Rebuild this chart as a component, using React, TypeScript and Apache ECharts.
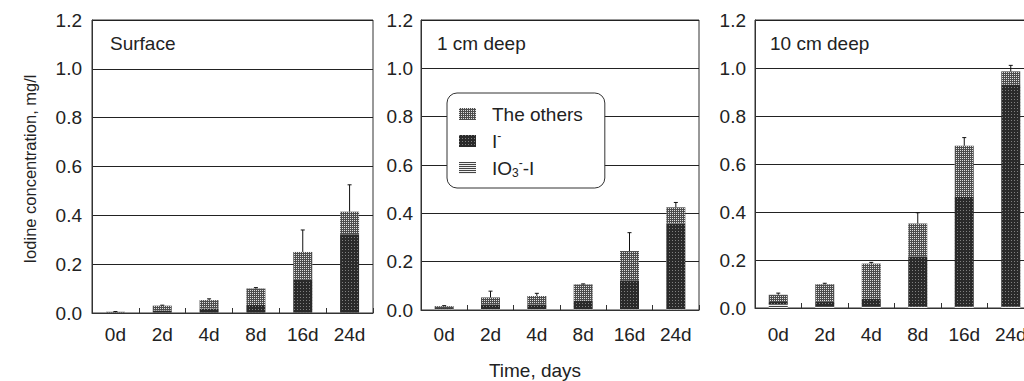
import React, { useEffect, useRef } from 'react';
import * as echarts from 'echarts';

const categories = ['0d', '2d', '4d', '8d', '16d', '24d'];
const panelTitles = ['Surface', '1 cm deep', '10 cm deep'];
const yTickMin = 0;
const yTickMax = 1.2;
const yTickStep = 0.2;

const NAME_OTHERS = 'The others';
const NAME_IMINUS = 'I⁻';
const NAME_IO3 = 'IO₃⁻-I';

// Surface
const io3Surface = [0.002, 0.003, 0.003, 0.003, 0.003, 0.003];
const iminusSurface = [0.001, 0.007, 0.015, 0.03, 0.135, 0.32];
const othersSurface = [0.002, 0.02, 0.035, 0.067, 0.112, 0.092];
const errSurface = [0.001, 0.002, 0.005, 0.004, 0.09, 0.11];

// 1 cm deep
const io3Cm1 = [0.003, 0.003, 0.003, 0.003, 0.003, 0.003];
const iminusCm1 = [0.005, 0.02, 0.02, 0.035, 0.12, 0.355];
const othersCm1 = [0.008, 0.029, 0.035, 0.068, 0.121, 0.067];
const errCm1 = [0.002, 0.026, 0.011, 0.002, 0.076, 0.02];

// 10 cm deep
const io3Cm10 = [0.015, 0.008, 0.008, 0.005, 0.005, 0.005];
const iminusCm10 = [0.01, 0.02, 0.03, 0.21, 0.457, 0.925];
const othersCm10 = [0.03, 0.071, 0.147, 0.137, 0.214, 0.056];
const errCm10 = [0.007, 0.004, 0.005, 0.045, 0.034, 0.025];

const panels = [
  { io3: io3Surface, iminus: iminusSurface, others: othersSurface, err: errSurface },
  { io3: io3Cm1, iminus: iminusCm1, others: othersCm1, err: errCm1 },
  { io3: io3Cm10, iminus: iminusCm10, others: othersCm10, err: errCm10 },
];

const FONT = '"Liberation Sans", Arial, sans-serif';
const INK = '#222';

const CHART_W = 1040;
const CHART_H = 381;

const gridBoxes = [
  { left: 92, width: 281, top: 20, height: 293 },
  { left: 421, width: 278, top: 20, height: 290 },
  { left: 755, width: 279, top: 20, height: 288 },
];
const yLabelMargins = [10, 8, 9];
const xLabelMargins = [12, 15, 17];

const othersStyle = {
  color: '#4d4d4d',
  decal: { symbol: 'rect', symbolSize: 1, dashArrayX: [1, 1], dashArrayY: [1, 1], color: '#e0e0e0' },
};
const iminusStyle = {
  color: '#2a2a2a',
  decal: { symbol: 'rect', symbolSize: 1, dashArrayX: [1, 2], dashArrayY: [1, 2], color: '#808080' },
};
const io3Style = {
  color: '#f0f0f0',
  decal: { symbol: 'rect', symbolSize: 1, dashArrayX: [1, 0], dashArrayY: [1, 1], color: '#444' },
};

export default function App() {
  const ref = useRef<HTMLDivElement>(null);

  useEffect(() => {
    if (!ref.current) return;
    const chart = echarts.init(ref.current, undefined, { renderer: 'svg' });

    const grids = gridBoxes.map((g) => ({
      ...g,
      show: true,
      borderColor: '#333',
      borderWidth: 1,
      backgroundColor: 'transparent',
    }));

    const xAxes = gridBoxes.map((_, p) => ({
      type: 'category',
      gridIndex: p,
      data: categories,
      boundaryGap: true,
      axisLine: { show: true, lineStyle: { color: '#333', width: 1 } },
      axisTick: { show: true, inside: true, length: 5, lineStyle: { color: '#333' } },
      axisLabel: { color: INK, fontSize: 19, fontFamily: FONT, margin: xLabelMargins[p] },
    }));

    const yAxes = gridBoxes.map((_, p) => ({
      type: 'value',
      gridIndex: p,
      min: yTickMin,
      max: yTickMax,
      interval: yTickStep,
      axisLine: { show: true, lineStyle: { color: '#333', width: 1 } },
      axisTick: { show: false },
      splitLine: { show: true, lineStyle: { color: '#222', width: 1 } },
      axisLabel: {
        color: INK,
        fontSize: 19,
        fontFamily: FONT,
        margin: yLabelMargins[p],
        formatter: (v: number) => v.toFixed(1),
      },
    }));

    const series: any[] = [];
    panels.forEach((pd, p) => {
      series.push({
        type: 'bar', name: NAME_IO3, xAxisIndex: p, yAxisIndex: p, stack: 's' + p,
        barWidth: 19, data: pd.io3, itemStyle: io3Style, silent: true,
      });
      series.push({
        type: 'bar', name: NAME_IMINUS, xAxisIndex: p, yAxisIndex: p, stack: 's' + p,
        barWidth: 19, data: pd.iminus, itemStyle: iminusStyle, silent: true,
      });
      series.push({
        type: 'bar', name: NAME_OTHERS, xAxisIndex: p, yAxisIndex: p, stack: 's' + p,
        barWidth: 19, data: pd.others, itemStyle: othersStyle, silent: true,
      });
      const errData = categories.map((_, i) => {
        const total = pd.io3[i] + pd.iminus[i] + pd.others[i];
        return [i, total, total + pd.err[i]];
      });
      series.push({
        type: 'custom', xAxisIndex: p, yAxisIndex: p, silent: true, z: 10,
        encode: { x: 0, y: [1, 2] },
        data: errData,
        renderItem: (params: any, api: any) => {
          const x = api.value(0);
          const lo = api.coord([x, api.value(1)]);
          const hi = api.coord([x, api.value(2)]);
          return {
            type: 'group',
            children: [
              { type: 'line', shape: { x1: lo[0], y1: lo[1], x2: hi[0], y2: hi[1] }, style: { stroke: '#111', lineWidth: 1 } },
              { type: 'line', shape: { x1: hi[0] - 2, y1: hi[1], x2: hi[0] + 2, y2: hi[1] }, style: { stroke: '#111', lineWidth: 1 } },
            ],
          };
        },
      });
    });

    const titleX = [110, 437, 770];

    chart.setOption({
      animation: false,
      backgroundColor: '#fff',
      grid: grids,
      xAxis: xAxes,
      yAxis: yAxes,
      legend: {
        data: [{ name: NAME_OTHERS }, { name: NAME_IMINUS }, { name: NAME_IO3 }],
        orient: 'vertical',
        left: 447,
        top: 93,
        icon: 'rect',
        itemWidth: 17,
        itemHeight: 12,
        itemGap: 5,
        selectedMode: false,
        backgroundColor: '#fff',
        borderColor: '#333',
        borderWidth: 1,
        borderRadius: 10,
        padding: [10, 22, 9, 12],
        textStyle: {
          color: INK,
          fontSize: 19,
          fontFamily: FONT,
          lineHeight: 22,
          padding: [0, 0, 0, 11],
          rich: {
            b: { fontSize: 19, fontFamily: FONT, color: INK, lineHeight: 22 },
            sup: { fontSize: 12, fontFamily: FONT, color: INK, verticalAlign: 'top', lineHeight: 12 },
            sub: { fontSize: 12, fontFamily: FONT, color: INK, verticalAlign: 'bottom', lineHeight: 12 },
          },
        },
        formatter: (name: string) => {
          if (name === NAME_IMINUS) return '{b|I}{sup|-}';
          if (name === NAME_IO3) return '{b|IO}{sub|3}{sup|-}{b|-I}';
          return '{b|' + name + '}';
        },
      },
      graphic: [
        ...panelTitles.map((t, p) => ({
          type: 'text',
          left: titleX[p],
          top: 34,
          z: 20,
          style: { text: t, fontSize: 19, fontFamily: FONT, fill: INK },
        })),
        {
          type: 'text',
          x: 30,
          y: 169,
          rotation: Math.PI / 2,
          style: {
            text: 'Iodine concentration, mg/l',
            fontSize: 16.5,
            fontFamily: FONT,
            fill: INK,
            textAlign: 'center',
            textVerticalAlign: 'middle',
          },
        },
        {
          type: 'text',
          x: 535,
          y: 370,
          style: {
            text: 'Time, days',
            fontSize: 19,
            fontFamily: FONT,
            fill: INK,
            textAlign: 'center',
            textVerticalAlign: 'middle',
          },
        },
      ],
      series,
    });

    return () => chart.dispose();
  }, []);

  return (
    <div style={{ position: 'fixed', left: 0, top: 0, width: 1024, height: CHART_H, overflow: 'hidden' }}>
      <div ref={ref} style={{ width: CHART_W, height: CHART_H }} />
    </div>
  );
}
